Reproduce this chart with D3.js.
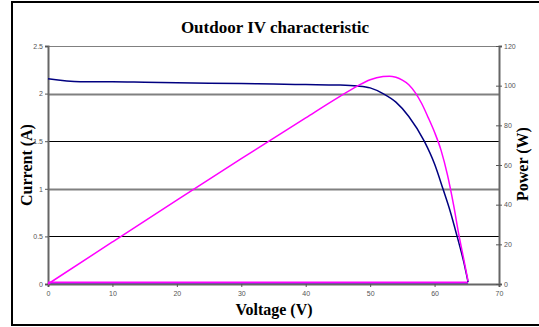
<!DOCTYPE html>
<html>
<head>
<meta charset="utf-8">
<script src="https://cdn.jsdelivr.net/npm/d3@7"></script>
<style>
  body { margin: 0; background: #fff; }
  .tick text { font-family: "Liberation Sans", Arial, sans-serif; font-size: 7px; fill: #555; }
  .ttl { font-family: "Liberation Serif", "Times New Roman", serif; font-weight: bold; font-size: 16px; fill: #000; }
</style>
</head>
<body>
<script>
var voltage = [0, 5, 10, 15, 20, 25, 30, 35, 40, 45, 48, 50, 52, 54, 56, 58.4, 60, 61.3, 62.4, 63.5, 64.5, 65.2];
var current = [2.155, 2.125, 2.125, 2.12, 2.115, 2.11, 2.105, 2.1, 2.095, 2.09, 2.08, 2.06, 2.0, 1.91, 1.76, 1.5, 1.26, 1.0, 0.77, 0.5, 0.24, 0.02];
// power curve (W)
var powerV = [0, 10, 20, 30, 40, 45, 48, 50, 52, 53, 54, 55, 56, 57, 58, 59, 60, 61, 62, 62.4, 63, 63.7, 64.5, 65.2];
var power  = [0, 21.2, 42.3, 63.2, 83.8, 94, 99.8, 103, 104.6, 104.8, 104.2, 102.8, 100.5, 96.5, 91, 84, 76.5, 67.5, 55, 49, 39, 26, 13, 1.5];
// return sweep drawn along the bottom
var returnV = [65.2, 0];
var returnI = [0.012, 0.012];
var returnP = [0.8, 0.8];

var xTicks = [0, 10, 20, 30, 40, 50, 60, 70];
var yTicks = [0, 0.5, 1, 1.5, 2, 2.5];
var y2Ticks = [0, 20, 40, 60, 80, 100, 120];

var W = 539, H = 327;
var margin = { top: 46, right: 40, bottom: 43, left: 48 },
    width = 499 - margin.left,
    height = 284 - margin.top;

var svg = d3.select("body").append("svg")
    .attr("width", W)
    .attr("height", H);

// outer chart border
svg.append("rect")
    .attr("x", 12).attr("y", 2)
    .attr("width", 540).attr("height", 323)
    .attr("fill", "none").attr("stroke", "#000").attr("stroke-width", 2);

var g = svg.append("g")
    .attr("transform", "translate(" + margin.left + "," + margin.top + ")");

var x = d3.scaleLinear().domain([0, 70]).range([0, width]);
var y = d3.scaleLinear().domain([0, 2.5]).range([height, 0]);
var y2 = d3.scaleLinear().domain([0, 120]).range([height, 0]);

// gridlines (alternate grey / black as in the original)
g.selectAll(".grid")
    .data(yTicks.filter(function (d) { return d > 0 && d < 2.5; }))
    .enter().append("line")
    .attr("x1", 0).attr("x2", width)
    .attr("y1", function (d) { return Math.round(y(d)) + 0.5; })
    .attr("y2", function (d) { return Math.round(y(d)) + 0.5; })
    .attr("stroke", function (d) { return d % 1 === 0 ? "#808080" : "#000"; })
    .attr("stroke-width", function (d) { return d % 1 === 0 ? 2 : 1; });

// top frame
g.append("line")
    .attr("x1", 0).attr("x2", width).attr("y1", 0.5).attr("y2", 0.5)
    .attr("stroke", "#808080").attr("stroke-width", 1);

// axes
var fmt = function (d) { return String(d); };
var xAxis = g.append("g")
    .attr("transform", "translate(0," + height + ")")
    .call(d3.axisBottom(x).tickValues(xTicks).tickFormat(fmt).tickSize(3).tickPadding(4));
var yAxis = g.append("g")
    .call(d3.axisLeft(y).tickValues(yTicks).tickFormat(fmt).tickSize(3).tickPadding(2));
var y2Axis = g.append("g")
    .attr("transform", "translate(" + width + ",0)")
    .call(d3.axisRight(y2).tickValues(y2Ticks).tickFormat(fmt).tickSize(3).tickPadding(2));

[xAxis, yAxis, y2Axis].forEach(function (a) {
    a.select(".domain").attr("stroke", "#666").attr("stroke-width", 2);
    a.selectAll(".tick line").attr("stroke", "#555");
});
y2Axis.selectAll(".tick").append("line")
    .attr("x1", -3).attr("x2", 0).attr("stroke", "#555");

// lines
var ivLine = d3.line()
    .x(function (d, i) { return x(voltage[i]); })
    .y(function (d) { return y(d); })
    .curve(d3.curveMonotoneX);
var pLine = d3.line()
    .x(function (d, i) { return x(powerV[i]); })
    .y(function (d) { return y2(d); })
    .curve(d3.curveMonotoneX);

g.append("path")
    .datum(returnI)
    .attr("d", d3.line().x(function (d, i) { return x(returnV[i]); }).y(function (d) { return y(d); }))
    .attr("fill", "none").attr("stroke", "#000080").attr("stroke-width", 1.5);
g.append("path")
    .datum(returnP)
    .attr("d", d3.line().x(function (d, i) { return x(returnV[i]); }).y(function (d) { return y2(d); }))
    .attr("fill", "none").attr("stroke", "#ff00ff").attr("stroke-width", 1.8);

g.append("path")
    .datum(current)
    .attr("d", ivLine)
    .attr("fill", "none").attr("stroke", "#000080").attr("stroke-width", 1.5);
g.append("path")
    .datum(power)
    .attr("d", pLine)
    .attr("fill", "none").attr("stroke", "#ff00ff").attr("stroke-width", 1.5);

// titles
svg.append("text").attr("class", "ttl")
    .style("font-size", "17px")
    .attr("x", 275).attr("y", 33).attr("text-anchor", "middle")
    .text("Outdoor IV characteristic");
svg.append("text").attr("class", "ttl")
    .attr("x", 274).attr("y", 315).attr("text-anchor", "middle")
    .text("Voltage (V)");
svg.append("text").attr("class", "ttl")
    .attr("transform", "translate(32,165) rotate(-90)")
    .attr("text-anchor", "middle")
    .text("Current (A)");
svg.append("text").attr("class", "ttl")
    .attr("transform", "translate(528,164) rotate(-90)")
    .attr("text-anchor", "middle")
    .text("Power (W)");
</script>
</body>
</html>
